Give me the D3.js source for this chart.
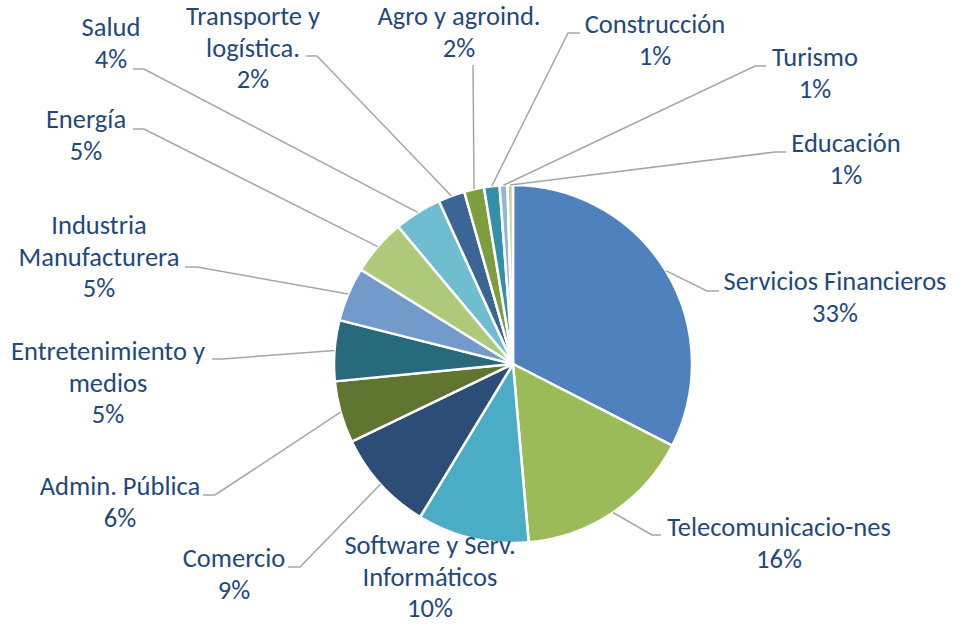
<!DOCTYPE html>
<html lang="es">
<head>
    <meta charset="UTF-8">
    <title>Sectores</title>
    <script src="https://d3js.org/d3.v7.min.js"></script>
    <style>
        body { margin: 0; background: #fff; }
        svg { display: block; }
        .etiqueta { font-family: Carlito, Lato, "Open Sans", sans-serif; font-size: 26.5px; fill: #1F497D; }
        .guia { fill: none; stroke: #A6A6A6; stroke-width: 1.5; }
    </style>
</head>
<body>
<svg width="953" height="625"></svg>
<script>
    // datos
    const sectores = ["Servicios Financieros", "Telecomunicacio-nes", "Software y Serv. Informáticos", "Comercio",
        "Admin. Pública", "Entretenimiento y medios", "Industria Manufacturera", "Energía", "Salud",
        "Transporte y logística.", "Agro y agroind.", "Construcción", "Turismo", "Educación"];
    const valores = [32.6, 16.1, 10.1, 9.2, 5.6, 5.5, 4.9, 5.1, 4.3, 2.4, 1.8, 1.4, 0.7, 0.5];
    const porcentajes = ["33%", "16%", "10%", "9%", "6%", "5%", "5%", "5%", "4%", "2%", "2%", "1%", "1%", "1%"];
    // como se parte cada nombre en lineas
    const lineas = [["Servicios Financieros"], ["Telecomunicacio-nes"], ["Software y Serv.", "Informáticos"], ["Comercio"],
        ["Admin. Pública"], ["Entretenimiento y", "medios"], ["Industria", "Manufacturera"], ["Energía"], ["Salud"],
        ["Transporte y", "logística."], ["Agro y agroind."], ["Construcción"], ["Turismo"], ["Educación"]];
    const colores = ["#4F81BD", "#9BBB59", "#4BACC6", "#2C4D75", "#5F7530", "#276A7C", "#729ACA", "#AFC97A",
        "#6FBDD1", "#3A6595", "#7E9D3E", "#3291A9", "#95B3D7", "#C3D69B"];

    // posicion de las etiquetas: centro x, primera linea base y, punto de la guia, lado del codo
    const posEtiquetas = [
        {x: 835, y: 290, ax: 719, ay: 291, codo: -12},
        {x: 779, y: 536, ax: 661, ay: 535, codo: -9},
        {x: 430, y: 554, ax: null},
        {x: 234, y: 567, ax: 288, ay: 567, codo: 12},
        {x: 120, y: 495, ax: 203, ay: 495, codo: 12},
        {x: 108, y: 360, ax: 212, ay: 359, codo: 10},
        {x: 99, y: 234, ax: 185, ay: 267, codo: 12},
        {x: 86, y: 128, ax: 133, ay: 129, codo: 11},
        {x: 111, y: 36, ax: 133, ay: 69, codo: 11},
        {x: 253, y: 25, ax: 306, ay: 56, codo: 11},
        {x: 459, y: 25, ax: 473, ay: 65, codo: 0},
        {x: 655, y: 33, ax: 580, ay: 33, codo: -12},
        {x: 815, y: 66, ax: 766, ay: 66, codo: -11},
        {x: 846, y: 152, ax: 786, ay: 152, codo: -11}
    ];

    const svg = d3.select("svg");
    const cx = 513, cy = 364, radio = 179;
    const g = svg.append("g").attr("transform", `translate(${cx},${cy})`);

    const datos = sectores.map((s, i) => ({sector: s, valor: valores[i], i: i}));
    const pie = d3.pie().sort(null).value(d => d.valor);
    const arco = d3.arc().innerRadius(0).outerRadius(radio);
    const arcos = pie(datos);

    // lineas guia primero, debajo de la torta
    arcos.forEach((a, i) => {
        const p = posEtiquetas[i];
        if (p.ax === null) return;
        const ang = (a.startAngle + a.endAngle) / 2;
        const fx = cx + radio * Math.sin(ang), fy = cy - radio * Math.cos(ang);
        const pts = [[p.ax, p.ay]];
        if (p.codo !== 0) pts.push([p.ax + p.codo, p.ay]);
        pts.push([fx, fy]);
        svg.append("path").attr("class", "guia").attr("d", d3.line()(pts));
    });

    g.selectAll("path.porcion")
        .data(arcos)
        .enter().append("path")
        .attr("class", "porcion")
        .attr("d", arco)
        .attr("fill", d => colores[d.data.i])
        .attr("stroke", "#fff")
        .attr("stroke-width", 2.5)
        .attr("stroke-linejoin", "round");

    // etiquetas
    arcos.forEach((a, i) => {
        const p = posEtiquetas[i];
        const txt = lineas[i].concat([porcentajes[i]]);
        const t = svg.append("text").attr("class", "etiqueta").attr("text-anchor", "middle");
        txt.forEach((l, k) => {
            t.append("tspan").attr("x", p.x).attr("y", p.y + k * 31.5).text(l);
        });
    });
</script>
</body>
</html>
